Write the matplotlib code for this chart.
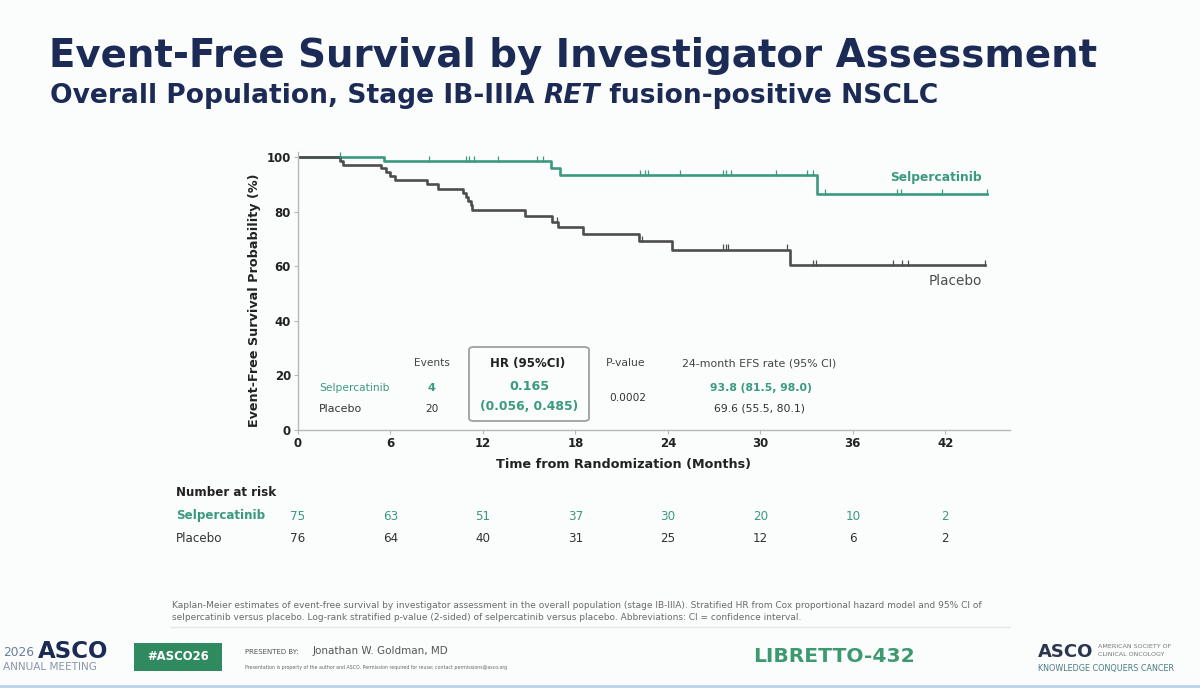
import numpy as np
import matplotlib
matplotlib.use("Agg")
import matplotlib.pyplot as plt
from matplotlib.patches import FancyBboxPatch, Rectangle
from matplotlib.transforms import blended_transform_factory

plt.rcParams['font.family'] = ['DejaVu Sans']

# ---------------- data ----------------
sel_times = [0, 5.6, 16.4, 17.0, 33.7, 44.7]
sel_surv = [100, 98.6, 96.0, 93.4, 86.5, 86.5]
sel_censor = [2.7, 8.5, 10.9, 11.1, 11.4, 13.0, 15.5, 15.9, 22.2, 22.5, 22.7,
              24.8, 27.6, 27.8, 28.1, 31.0, 33.0, 33.4, 34.2, 38.9, 39.1, 41.8, 44.7]

plc_times = [0, 2.7, 2.9, 5.4, 5.7, 6.0, 6.3, 8.4, 9.1, 10.7, 10.9, 11.0, 11.2, 11.3,
             14.7, 16.5, 16.9, 18.5, 22.1, 24.3, 31.9, 44.6]
plc_surv = [100, 98.7, 97.3, 96.0, 94.6, 93.3, 91.9, 90.3, 88.6, 87.0, 85.5, 84.0, 82.4, 80.9,
            78.4, 76.4, 74.4, 72.0, 69.2, 66.2, 60.4, 60.4]
plc_censor = [16.8, 22.3, 27.6, 27.8, 27.9, 31.7, 33.4, 33.6, 38.6, 39.2, 39.6, 44.6]

risk_times = [0, 6, 12, 18, 24, 30, 36, 42]
risk_sel = [75, 63, 51, 37, 30, 20, 10, 2]
risk_plc = [76, 64, 40, 31, 25, 12, 6, 2]

xticks = [0, 6, 12, 18, 24, 30, 36, 42]
yticks = [0, 20, 40, 60, 80, 100]

tbl_headers = ["Events", "HR (95%CI)", "P-value", "24-month EFS rate (95% CI)"]
tbl_sel = ["Selpercatinib", "4", "0.165", "93.8 (81.5, 98.0)"]
tbl_plc = ["Placebo", "20", "(0.056, 0.485)", "69.6 (55.5, 80.1)"]
p_value = "0.0002"

# ---------------- style ----------------
GREEN = "#3a9a80"
GREY = "#4d4d4d"
NAVY = "#1c2b55"
W, H = 1200, 688

fig = plt.figure(figsize=(W / 100, H / 100), dpi=100, facecolor="#fbfcfc")
renderer = fig.canvas.get_renderer()


def px(x, y):
    return x / W, 1 - y / H


ax = fig.add_axes([298 / W, 1 - 430 / H, (1010 - 298) / W, (430 - 152) / H])
ax.set_facecolor("none")


def surv_at(times, surv, t):
    i = np.searchsorted(times, t, side="right") - 1
    return np.array(surv)[i]


ax.step(sel_times, sel_surv, where="post", color=GREEN, lw=1.9)
ax.step(plc_times, plc_surv, where="post", color=GREY, lw=1.9)
ax.plot(sel_censor, surv_at(sel_times, sel_surv, sel_censor) + 0.8, ls="none",
        marker="|", ms=5, mew=0.9, color=GREEN)
ax.plot(plc_censor, surv_at(plc_times, plc_surv, plc_censor) + 0.8, ls="none",
        marker="|", ms=5, mew=0.9, color=GREY)

ax.set_xlim(0, 46.2)
ax.set_ylim(0, 102)
ax.set_xticks(xticks)
ax.set_yticks(yticks)
for s in ["top", "right"]:
    ax.spines[s].set_visible(False)
for s in ["left", "bottom"]:
    ax.spines[s].set_color("#b8b8b8")
    ax.spines[s].set_linewidth(1.0)
ax.tick_params(colors="#b8b8b8", labelcolor="#222222", length=3, width=0.8, labelsize=8.5,
               pad=2)
for lab in ax.get_xticklabels() + ax.get_yticklabels():
    lab.set_fontweight("bold")
ax.set_xlabel("Time from Randomization (Months)", fontsize=9.2, fontweight="bold",
              color="#222222")
ax.xaxis.set_label_coords((623 - 298) / 712, -28 / 278)
ax.set_ylabel("Event-Free Survival Probability (%)", fontsize=9.2, fontweight="bold",
              color="#222222")
ax.yaxis.set_label_coords((261 - 298) / 712, (430 - 300) / 278)

fig.text(*px(982, 178), "Selpercatinib", ha="right", va="center",
         color=GREEN, fontsize=8.8, fontweight="bold")
fig.text(*px(982, 281), "Placebo", ha="right", va="center",
         color=GREY, fontsize=9.8)

# ---------------- embedded table ----------------
fig.text(*px(432, 363), tbl_headers[0], ha="center", va="center", fontsize=7.6, color="#444444")
fig.text(*px(528, 363), tbl_headers[1], ha="center", va="center", fontsize=8.5, color="#222222",
         fontweight="bold")
fig.text(*px(626, 363), tbl_headers[2], ha="center", va="center", fontsize=7.8, color="#444444")
fig.text(*px(759, 363), tbl_headers[3], ha="center", va="center", fontsize=7.9, color="#444444")

fig.text(*px(319, 388), tbl_sel[0], ha="left", va="center", fontsize=7.7, color=GREEN)
fig.text(*px(431, 388), tbl_sel[1], ha="center", va="center", fontsize=8, color=GREEN,
         fontweight="bold")
fig.text(*px(529, 387), tbl_sel[2], ha="center", va="center", fontsize=9.2, color=GREEN,
         fontweight="bold")
fig.text(*px(761, 388), tbl_sel[3], ha="center", va="center", fontsize=7.8, color=GREEN,
         fontweight="bold")

fig.text(*px(319, 409), tbl_plc[0], ha="left", va="center", fontsize=7.9, color="#333333")
fig.text(*px(432, 409), tbl_plc[1], ha="center", va="center", fontsize=7.6, color="#333333")
fig.text(*px(529, 406), tbl_plc[2], ha="center", va="center", fontsize=8.9, color=GREEN,
         fontweight="bold")
fig.text(*px(760, 409), tbl_plc[3], ha="center", va="center", fontsize=7.8, color="#333333")
fig.text(*px(628, 398), p_value, ha="center", va="center", fontsize=7.6, color="#333333")

box = FancyBboxPatch(px(469, 421), 120 / W, 74 / H, boxstyle="round,pad=0,rounding_size=0.004",
                     transform=fig.transFigure, fill=False, edgecolor="#a0a0a0", lw=1.3)
fig.patches.append(box)

# ---------------- number at risk ----------------
fig.text(*px(176, 493), "Number at risk", ha="left", va="center", fontsize=8.6,
         fontweight="bold", color="#222222")
fig.text(*px(176, 516), "Selpercatinib", ha="left", va="center", fontsize=8.6,
         fontweight="bold", color=GREEN)
fig.text(*px(176, 538), "Placebo", ha="left", va="center", fontsize=8.6, color="#333333")
trans = blended_transform_factory(ax.transData, fig.transFigure)
for t, a, b in zip(risk_times, risk_sel, risk_plc):
    ax.text(t, 1 - 516 / H, str(a), transform=trans, ha="center", va="center", fontsize=8.6,
            color=GREEN, clip_on=False)
    ax.text(t, 1 - 538 / H, str(b), transform=trans, ha="center", va="center", fontsize=8.6,
            color="#333333", clip_on=False)

# ---------------- titles ----------------
fig.text(*px(49, 56), "Event-Free Survival by Investigator Assessment", ha="left", va="center",
         fontsize=27.9, fontweight="bold", color=NAVY)

sub_parts = [("Overall Population, Stage IB-IIIA ", "normal"), ("RET", "italic"),
             (" fusion-positive NSCLC", "normal")]
x_cur = 50
for txt, style in sub_parts:
    t = fig.text(*px(x_cur, 96), txt, ha="left", va="center", fontsize=19.1,
                 fontweight="bold", fontstyle=style, color=NAVY)
    bb = t.get_window_extent(renderer)
    x_cur = bb.x1

# ---------------- footnote ----------------
fig.text(*px(172, 605),
         "Kaplan-Meier estimates of event-free survival by investigator assessment in the overall population (stage IB-IIIA). "
         "Stratified HR from Cox proportional hazard model and 95% CI of",
         ha="left", va="center", fontsize=6.5, color="#6a6a6a")
fig.text(*px(172, 618),
         "selpercatinib versus placebo. Log-rank stratified p-value (2-sided) of selpercatinib versus placebo. "
         "Abbreviations: CI = confidence interval.",
         ha="left", va="center", fontsize=6.5, color="#6a6a6a")
fig.add_artist(plt.Line2D([170 / W, 1010 / W], [1 - 627 / H] * 2, transform=fig.transFigure,
                          color="#e4e6e8", lw=1))

# ---------------- footer ----------------
fig.text(*px(3, 653), "2026", ha="left", va="center", fontsize=8.8, color="#6b7f99")
fig.text(*px(38, 652), "ASCO", ha="left", va="center", fontsize=16.5, fontweight="bold",
         color=NAVY)
fig.text(*px(3, 667), "ANNUAL MEETING", ha="left", va="center", fontsize=7.6, color="#8a96aa")
fig.patches.append(Rectangle(px(134, 671), 88 / W, 28 / H, transform=fig.transFigure,
                             facecolor="#2f8a60", edgecolor="none"))
fig.text(*px(178, 657), "#ASCO26", ha="center", va="center", fontsize=8.4, fontweight="bold",
         color="white")
fig.text(*px(245, 652), "PRESENTED BY:", ha="left", va="center", fontsize=5.0, color="#555555")
fig.text(*px(313, 651), "Jonathan W. Goldman, MD", ha="left", va="center", fontsize=7.5,
         color="#555555")
fig.text(*px(245, 667),
         "Presentation is property of the author and ASCO. Permission required for reuse; contact permissions@asco.org",
         ha="left", va="center", fontsize=3.4, color="#666666")
fig.text(*px(834, 657), "LIBRETTO-432", ha="center", va="center", fontsize=14.6,
         fontweight="bold", color="#3d9970")
fig.text(*px(1038, 652), "ASCO", ha="left", va="center", fontsize=13, fontweight="bold",
         color="#2a3550")
fig.text(*px(1098, 647), "AMERICAN SOCIETY OF", ha="left", va="center", fontsize=4.6,
         color="#777777")
fig.text(*px(1098, 655), "CLINICAL ONCOLOGY", ha="left", va="center", fontsize=4.6,
         color="#777777")
fig.text(*px(1038, 668), "KNOWLEDGE CONQUERS CANCER", ha="left", va="center", fontsize=5.8,
         color="#4a7a80")
fig.add_artist(plt.Line2D([0, 1], [1 - 686 / H] * 2, transform=fig.transFigure,
                          color="#b9d3ea", lw=2))

fig.savefig("out.png", dpi=100, facecolor=fig.get_facecolor())
